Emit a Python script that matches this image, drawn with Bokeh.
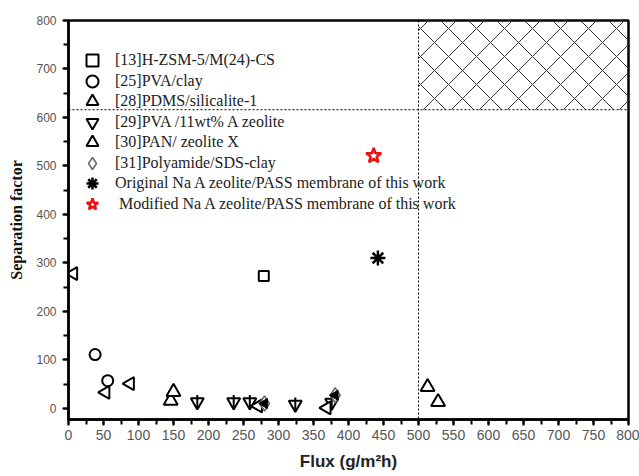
import math
from bokeh.plotting import figure
from bokeh.models import (Range1d, SingleIntervalTicker, Span, Legend, LegendItem)
from bokeh.embed import file_html
from bokeh.resources import INLINE

# ---- data (flux g/m2h, separation factor) ----
hzsm_flux = [279]
hzsm_sep = [273]
pvaclay_flux = [38, 56]
pvaclay_sep = [111, 57]
pdms_flux = [146, 150, 513, 528]
pdms_sep = [16, 34, 44, 13]
pvaA_flux = [184, 236, 259, 324, 376]
pvaA_sep = [13, 13, 13, 8, 12]
pan_flux = [7, 53, 88, 271, 369]
pan_sep = [278, 33, 51, 5, 1]
polyamide_flux = [280, 381]
polyamide_sep = [10, 27]
orig_flux = [442]
orig_sep = [310]
mod_flux = [436]
mod_sep = [521]

target_flux = 500
target_sep = 616
x_max = 800
y_max = 800

labels = [
    "[13]H-ZSM-5/M(24)-CS",
    "[25]PVA/clay",
    "[28]PDMS/silicalite-1",
    "[29]PVA /11wt% A zeolite",
    "[30]PAN/ zeolite X",
    "[31]Polyamide/SDS-clay",
    "Original Na A zeolite/PASS membrane of this work",
    " Modified Na A zeolite/PASS membrane of this work",
]

p = figure(width=639, height=476, output_backend="svg", toolbar_location=None,
           x_range=Range1d(0, x_max), y_range=Range1d(-23, y_max),
           min_border_left=68, min_border_right=11, min_border_top=20, min_border_bottom=57)
p.xgrid.visible = False
p.ygrid.visible = False
p.outline_line_color = "black"
p.outline_line_width = 2.5

# target region
p.quad(left=[target_flux], right=[x_max], bottom=[target_sep], top=[y_max],
       fill_alpha=0, line_alpha=0, hatch_pattern="diagonal_cross",
       hatch_color="#333333", hatch_scale=28, hatch_weight=1)
p.add_layout(Span(location=target_sep, dimension="width", line_color="black",
                  line_width=1, line_dash="2 2"))
p.add_layout(Span(location=target_flux, dimension="height", line_color="black",
                  line_width=1, line_dash="2 2"))

lw = 2
r_sq = p.scatter(hzsm_flux, hzsm_sep, marker="square", size=10, fill_color="white",
                 line_color="black", line_width=lw)
r_ci = p.scatter(pvaclay_flux, pvaclay_sep, marker="circle", size=11, fill_color="white",
                 line_color="black", line_width=lw)
r_tr = p.scatter(pdms_flux, pdms_sep, marker="triangle", size=14, fill_color="white",
                 line_color="black", line_width=lw)
r_it = p.scatter(pvaA_flux, pvaA_sep, marker="inverted_triangle", size=13, fill_color="white",
                 line_color="black", line_width=lw)
r_st = p.scatter(pvaA_flux, pvaA_sep, marker="dash", angle=math.pi / 2, size=14,
                 line_color="black", line_width=lw)
r_lt = p.scatter(pan_flux, pan_sep, marker="triangle", angle=math.pi / 2, size=13,
                 fill_color="white", line_color="black", line_width=lw)
r_di = p.scatter(polyamide_flux, polyamide_sep, marker="diamond", size=15, fill_color="white",
                 line_color="#666666", line_width=1.5)
r_dh = p.scatter(polyamide_flux, polyamide_sep, marker="triangle", angle=math.pi / 2, size=10,
                 fill_color="black", line_color="black", line_width=1)
r_as = p.scatter(orig_flux, orig_sep, marker="asterisk", size=15, line_color="black", line_width=2.5)
r_star = p.scatter(mod_flux, mod_sep, marker="star", size=16, fill_color="white",
                   line_color="#ee1111", line_width=2.5)

renderers = [[r_sq], [r_ci], [r_tr], [r_it], [r_lt], [r_di], [r_as], [r_star]]
items = [LegendItem(label=lab, renderers=rs) for lab, rs in zip(labels, renderers)]

# two interleaved legends so that each glyph box can be large while rows stay close
common = dict(padding=0, margin=0, spacing=11, glyph_width=30, glyph_height=30,
              label_height=30, label_standoff=8, label_text_font="Liberation Serif",
              label_text_font_size="16px", label_text_color="#222222",
              background_fill_alpha=0, border_line_color=None)
legend_a = Legend(items=items[0::2], location=(9, 221), **common)
legend_b = Legend(items=items[1::2], location=(9, 200), **common)
p.add_layout(legend_a)
p.add_layout(legend_b)

# axes
p.xaxis.ticker = SingleIntervalTicker(interval=50, num_minor_ticks=2)
p.yaxis.ticker = SingleIntervalTicker(interval=100, num_minor_ticks=2)
for ax in (p.xaxis, p.yaxis):
    ax.axis_line_width = 2.5
    ax.axis_line_color = "black"
    ax.major_tick_line_width = 2
    ax.minor_tick_line_width = 2
    ax.major_tick_in = 0
    ax.minor_tick_in = 0
    ax.major_tick_out = 6
    ax.minor_tick_out = 5
    ax.major_label_text_font = "Liberation Sans"
    ax.major_label_text_color = "#555555"
p.xaxis.major_label_text_font_size = "14px"
p.yaxis.major_label_text_font_size = "12px"
p.xaxis.major_label_standoff = 4
p.yaxis.major_label_standoff = 6

p.xaxis.axis_label = "Flux (g/m²h)"
p.xaxis.axis_label_text_font = "Liberation Sans"
p.xaxis.axis_label_text_font_style = "bold"
p.xaxis.axis_label_text_font_size = "17px"
p.xaxis.axis_label_text_color = "#222222"
p.xaxis.axis_label_standoff = 9

p.yaxis.axis_label = "Separation factor"
p.yaxis.axis_label_text_font = "Liberation Serif"
p.yaxis.axis_label_text_font_style = "bold"
p.yaxis.axis_label_text_font_size = "16px"
p.yaxis.axis_label_text_color = "#111111"
p.yaxis.axis_label_standoff = 8

open("out.html", "w").write(file_html(p, INLINE))
